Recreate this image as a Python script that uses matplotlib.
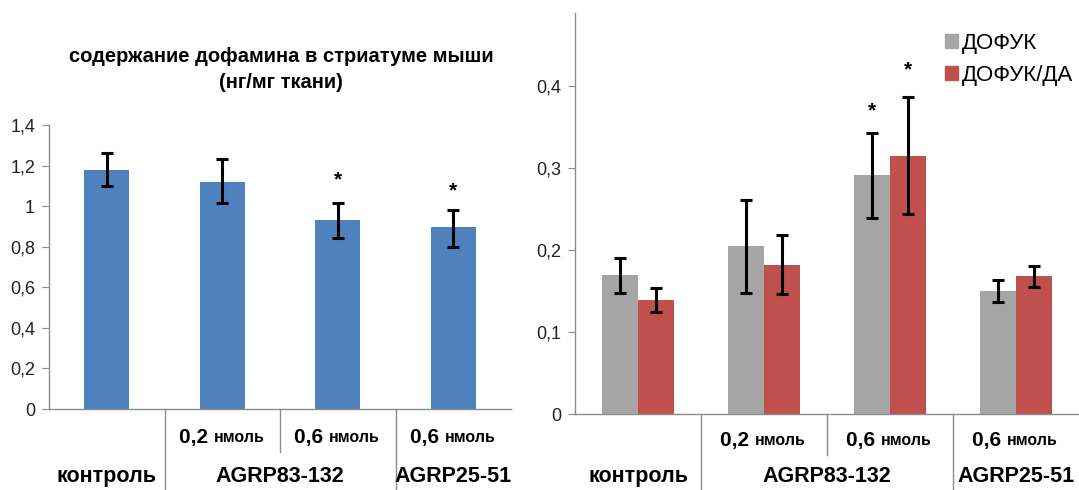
import numpy as np
import matplotlib
matplotlib.use('Agg')
import matplotlib.pyplot as plt
import matplotlib.transforms as mtrans
from matplotlib.ticker import FuncFormatter
from matplotlib.patches import Patch

plt.rcParams['font.family'] = ['Liberation Sans', 'DejaVu Sans']

# dopamine content, ng/mg tissue
da_mean = [1.18, 1.12, 0.93, 0.895]
da_hi = [1.26, 1.232, 1.015, 0.982]
da_lo = [1.10, 1.015, 0.843, 0.798]
da_star = [None, None, 1.13, 1.075]

# DOPAC and DOPAC/DA ratio
dopac_mean = [0.169, 0.205, 0.291, 0.150]
dopac_hi = [0.190, 0.261, 0.343, 0.163]
dopac_lo = [0.147, 0.147, 0.239, 0.136]
ratio_mean = [0.139, 0.182, 0.315, 0.168]
ratio_hi = [0.154, 0.218, 0.387, 0.181]
ratio_lo = [0.124, 0.146, 0.244, 0.155]
dopac_star = [None, None, 0.37, None]
ratio_star = [None, None, 0.42, None]

doses = ['', '0,2', '0,6', '0,6']
groups = [('контроль', 0, 0), ('AGRP83-132', 1, 2), ('AGRP25-51', 3, 3)]
legend_labels = ['ДОФУК', 'ДОФУК/ДА']

BLUE = '#4f81bd'
GREY = '#a5a5a5'
RED = '#c0504d'
AXIS = '#8c8c8c'

W, H = 1079, 490
fig = plt.figure(figsize=(W / 100, H / 100), dpi=100)


def fy(py):
    return 1 - py / H


def comma(v, pos):
    s = ('%.1f' % v).rstrip('0').rstrip('.')
    return s.replace('.', ',')


def style_axes(ax, ymax, step):
    for s in ('top', 'right'):
        ax.spines[s].set_visible(False)
    for s in ('left', 'bottom'):
        ax.spines[s].set_color(AXIS)
        ax.spines[s].set_linewidth(1.0)
    ax.set_xlim(-0.5, 3.5)
    ax.set_ylim(0, ymax)
    ax.set_yticks(np.arange(0, ymax + 1e-9, step))
    ax.yaxis.set_major_formatter(FuncFormatter(comma))
    ax.tick_params(axis='y', length=5, color=AXIS, labelsize=13, pad=5,
                   labelcolor='#222222')
    ax.set_xticks([])


def category_axis(ax, row1_py, row2_py, short_py):
    tr = mtrans.blended_transform_factory(ax.transData, fig.transFigure)
    y0 = ax.get_position().y0
    for x, full in ((0.5, True), (1.5, False), (2.5, True)):
        ax.plot([x, x], [y0, 0 if full else fy(short_py)], color=AXIS,
                lw=1.0, transform=tr, clip_on=False)
    for i, d in enumerate(doses):
        if not d:
            continue
        ax.text(i - 0.075, fy(row1_py), d + ' ', transform=tr, ha='right', va='center',
                fontsize=15, fontweight='bold')
        ax.text(i - 0.075, fy(row1_py) - 0.002, 'нмоль', transform=tr, ha='left',
                va='center', fontsize=11.5, fontweight='bold')
    for name, a, b in groups:
        ax.text((a + b) / 2, fy(row2_py), name, transform=tr, ha='center',
                va='center', fontsize=15.5, fontweight='bold', clip_on=False)


def draw_bars(ax, xs, mean, lo, hi, width, color):
    ax.bar(xs, mean, width=width, color=color, zorder=2)
    yerr = [np.array(mean) - np.array(lo), np.array(hi) - np.array(mean)]
    ax.errorbar(xs, mean, yerr=yerr, fmt='none', ecolor='black', elinewidth=2.2,
                capsize=4, capthick=2.2, zorder=3)


def draw_stars(ax, xs, stars):
    for x, s in zip(xs, stars):
        if s is not None:
            ax.text(x, s, '*', ha='center', va='center', fontsize=15, fontweight='bold')


x = np.arange(4)

# left panel: dopamine
ax1 = fig.add_axes([49 / W, fy(409), (511 - 49) / W, (409 - 125) / H])
style_axes(ax1, 1.4, 0.2)
draw_bars(ax1, x, da_mean, da_lo, da_hi, 0.39, BLUE)
draw_stars(ax1, x, da_star)
category_axis(ax1, 437, 476, 452)
fig.text(281 / W, fy(57), 'содержание дофамина в стриатуме мыши',
         ha='center', va='center', fontsize=14.5, fontweight='heavy')
fig.text(281 / W, fy(83), '(нг/мг ткани)',
         ha='center', va='center', fontsize=14.5, fontweight='heavy')

# right panel: DOPAC and DOPAC/DA
ax2 = fig.add_axes([575 / W, fy(414), (1079 - 575) / W, (414 - 13) / H])
style_axes(ax2, 0.489, 0.1)
bw = 0.285
draw_bars(ax2, x - bw / 2, dopac_mean, dopac_lo, dopac_hi, bw, GREY)
draw_bars(ax2, x + bw / 2, ratio_mean, ratio_lo, ratio_hi, bw, RED)
draw_stars(ax2, x - bw / 2, dopac_star)
draw_stars(ax2, x + bw / 2, ratio_star)
category_axis(ax2, 440, 476, 455)

handles = [Patch(color=GREY), Patch(color=RED)]
fig.legend(handles, legend_labels, loc='upper left', bbox_to_anchor=(936 / W, fy(24)),
           frameon=False, fontsize=16, handlelength=0.6, handleheight=0.6,
           handletextpad=0.15, labelspacing=0.5, borderaxespad=0)

fig.savefig('out.png', dpi=100)
